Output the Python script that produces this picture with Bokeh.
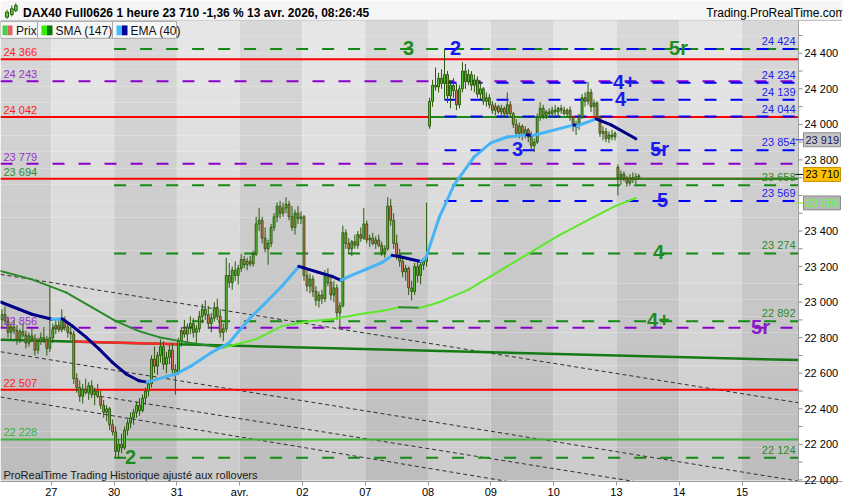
from bokeh.plotting import figure
from bokeh.models import Range1d, FixedTicker, ColumnDataSource
from bokeh.embed import file_html
from bokeh.resources import INLINE
from bokeh.core.properties import value

FONT = "Liberation Sans"

# ---------------- hourly candles (26 mar -> 13 apr 2026) ----------------
opens = [
    22900, 22930, 22895, 22830, 22860, 22840, 22790, 22835, 22815, 22770, 22810, 22795, 22730, 22780, 22800, 22790, 22740,
    22800, 22850, 22870, 22845, 22900, 22860, 22830, 22820, 22570, 22520, 22470, 22510, 22490, 22530, 22480, 22500, 22470, 22420, 22380, 22400, 22310,
    22270, 22160, 22200, 22180, 22280, 22320, 22350, 22380, 22420, 22390, 22460, 22500, 22540, 22680, 22640, 22700, 22750, 22650, 22690, 22730, 22620,
    22600, 22780, 22840, 22820, 22860, 22880, 22830, 22850, 22920, 22960, 22930, 22880, 22910, 22970, 22920, 22830, 22850, 23150, 23110, 23180, 23150,
    23190, 23240, 23210, 23230, 23215, 23270, 23440, 23460, 23360, 23300, 23330, 23420, 23480, 23540, 23500, 23530, 23550, 23480, 23420, 23500, 23470,
    23480, 23150, 23090, 23130, 23060, 23010, 23040, 23020, 23150, 23110, 23040, 23080, 22940, 22980, 23390, 23330, 23300, 23340, 23320, 23380, 23360,
    23440, 23350, 23360, 23330, 23350, 23320, 23280, 23300, 23540, 23460, 23330, 23270, 23230, 23170, 23190, 23080, 23060, 23200, 23150, 23210, 23230,
    23990, 24130, 24220, 24210, 24260, 24230, 24280, 24160, 24220, 24190, 24110, 24200, 24300, 24240, 24280, 24220, 24250, 24170, 24200, 24130, 24150,
    24110, 24080, 24100, 24070, 24090, 24060, 24110, 24060, 24000, 23950, 23990, 23940, 23970, 23930, 23880, 23900, 24040, 24090, 24050, 24070, 24060,
    24080, 24070, 24090, 24080, 24060, 24080, 24040, 23990, 24000, 24040, 24150, 24130, 24180, 24100, 24120, 24040, 23950, 23960, 23920, 23940, 23930,
    23760, 23700, 23720, 23695, 23670, 23700, 23690, 23705,
]
highs = [
    22960, 22975, 22920, 22880, 22900, 22870, 22850, 22880, 22840, 22830, 22850, 22820, 22800, 22830, 22860, 22810, 23085,
    22880, 22900, 22910, 22960, 22920, 22890, 22860, 22840, 22600, 22560, 22540, 22570, 22550, 22560, 22520, 22540, 22500, 22450, 22420, 22410, 22340,
    22300, 22230, 22260, 22300, 22340, 22380, 22400, 22440, 22460, 22480, 22520, 22560, 22700, 22750, 22720, 22790, 22780, 22720, 22760, 22770, 22650,
    22800, 22860, 22900, 22880, 22920, 22910, 22870, 22950, 22990, 23010, 22980, 22940, 23000, 23020, 22960, 22880, 23250, 23220, 23200, 23230, 23210,
    23270, 23260, 23250, 23260, 23290, 23480, 23530, 23480, 23420, 23350, 23440, 23500, 23560, 23570, 23560, 23590, 23570, 23540, 23520, 23540, 23510,
    23490, 23180, 23160, 23150, 23090, 23060, 23070, 23180, 23190, 23140, 23120, 23100, 23000, 23430, 23410, 23360, 23350, 23380, 23400, 23420, 23530,
    23460, 23380, 23390, 23370, 23380, 23340, 23320, 23590, 23580, 23500, 23380, 23300, 23260, 23210, 23200, 23120, 23220, 23240, 23230, 23250, 23560,
    24150, 24250, 24320, 24290, 24310, 24424, 24300, 24250, 24260, 24230, 24220, 24350, 24340, 24310, 24300, 24280, 24270, 24240, 24210, 24180, 24170,
    24130, 24120, 24110, 24110, 24100, 24180, 24130, 24070, 24030, 24010, 24000, 23990, 23980, 23960, 23920, 24060, 24125, 24110, 24080, 24090, 24100,
    24110, 24100, 24110, 24100, 24090, 24100, 24050, 24020, 24060, 24170, 24180, 24240, 24200, 24140, 24130, 24050, 23990, 23980, 23960, 23970, 23960,
    23775, 23740, 23735, 23710, 23720, 23730, 23725, 23720,
]
lows = [
    22860, 22880, 22800, 22790, 22820, 22760, 22770, 22800, 22740, 22750, 22780, 22700, 22710, 22760, 22770, 22700, 22720,
    22770, 22820, 22830, 22830, 22840, 22800, 22790, 22540, 22490, 22440, 22430, 22480, 22450, 22460, 22420, 22460, 22400, 22350, 22330, 22280, 22250,
    22125, 22120, 22150, 22170, 22250, 22290, 22310, 22350, 22360, 22380, 22420, 22470, 22520, 22600, 22590, 22660, 22620, 22600, 22650, 22600, 22480,
    22590, 22750, 22800, 22770, 22820, 22800, 22760, 22830, 22880, 22900, 22850, 22830, 22890, 22900, 22800, 22780, 22830, 23080, 23070, 23120, 23100,
    23170, 23190, 23180, 23200, 23200, 23260, 23400, 23330, 23280, 23210, 23310, 23400, 23450, 23470, 23480, 23500, 23460, 23400, 23380, 23440, 23440,
    23120, 23060, 23050, 23030, 22980, 22970, 22990, 23000, 23090, 23010, 23000, 22900, 22850, 22970, 23300, 23270, 23260, 23300, 23300, 23340, 23350,
    23330, 23310, 23320, 23300, 23310, 23260, 23250, 23290, 23430, 23300, 23240, 23200, 23140, 23120, 23040, 23010, 23040, 23110, 23100, 23180, 23200,
    23975, 24100, 24190, 24180, 24200, 24140, 24120, 24090, 24150, 24080, 24090, 24180, 24200, 24220, 24190, 24180, 24150, 24140, 24110, 24100, 24090,
    24060, 24050, 24060, 24050, 24040, 24050, 24040, 23980, 23930, 23920, 23910, 23920, 23900, 23850, 23845, 23890, 24020, 24030, 24030, 24040, 24040,
    24050, 24040, 24060, 24050, 24040, 24020, 23960, 23940, 23970, 24030, 24100, 24110, 24070, 24040, 24020, 23930, 23910, 23900, 23895, 23910, 23910,
    23600, 23660, 23680, 23650, 23655, 23670, 23665, 23690,
]
closes = [
    22930, 22895, 22830, 22860, 22840, 22790, 22835, 22815, 22770, 22810, 22795, 22730, 22780, 22800, 22790, 22740, 22800,
    22850, 22870, 22845, 22900, 22860, 22830, 22820, 22570, 22520, 22470, 22510, 22490, 22530, 22480, 22500, 22470, 22420, 22380, 22400, 22310, 22270,
    22160, 22200, 22180, 22280, 22320, 22350, 22380, 22420, 22390, 22460, 22500, 22540, 22680, 22640, 22700, 22750, 22650, 22690, 22730, 22620, 22600,
    22780, 22840, 22820, 22860, 22880, 22830, 22850, 22920, 22960, 22930, 22880, 22910, 22970, 22920, 22830, 22850, 23150, 23110, 23180, 23150, 23190,
    23240, 23210, 23230, 23215, 23270, 23440, 23460, 23360, 23300, 23330, 23420, 23480, 23540, 23500, 23530, 23550, 23480, 23420, 23500, 23470, 23480,
    23150, 23090, 23130, 23060, 23010, 23040, 23020, 23150, 23110, 23040, 23080, 22940, 22980, 23390, 23330, 23300, 23340, 23320, 23380, 23360, 23440,
    23350, 23360, 23330, 23350, 23320, 23280, 23300, 23540, 23460, 23330, 23270, 23230, 23170, 23190, 23080, 23060, 23200, 23150, 23210, 23230, 23260,
    24130, 24220, 24210, 24260, 24230, 24280, 24160, 24220, 24190, 24110, 24200, 24300, 24240, 24280, 24220, 24250, 24170, 24200, 24130, 24150, 24110,
    24080, 24100, 24070, 24090, 24060, 24110, 24060, 24000, 23950, 23990, 23940, 23970, 23930, 23880, 23900, 24040, 24090, 24050, 24070, 24060, 24080,
    24070, 24090, 24080, 24060, 24080, 24040, 23990, 24000, 24040, 24150, 24130, 24180, 24100, 24120, 24040, 23950, 23960, 23920, 23940, 23930, 23950,
    23700, 23720, 23695, 23670, 23700, 23690, 23705, 23710,
]

# ---------------- axes ----------------
day_labels = ["27", "30", "31", "avr.", "02", "07", "08", "09", "10", "13", "14", "15"]
day_starts = [17, 38, 59, 80, 101, 122, 143, 164, 185, 206, 227, 248]
price_ticks = [22000, 22200, 22400, 22600, 22800, 23000, 23200, 23400, 23800, 24000, 24200, 24400]
price_minor = [22000, 22100, 22200, 22300, 22400, 22500, 22600, 22700, 22800, 22900, 23000, 23100, 23200, 23300,
               23400, 23500, 23600, 23700, 23800, 23900, 24000, 24100, 24200, 24300, 24400, 24500]

# ---------------- indicators ----------------
ema_x = [0, 6.2, 10.5, 17.2, 20.6, 23.9, 28.6, 33, 37.3, 42, 46.3, 49, 49.7, 55.4, 58.7, 64, 70.7, 76.4,
         83.1, 88.8, 94.1, 99.8, 106.5, 110.9, 113.9, 116.6, 122.2, 127.6, 131, 133.3, 137.6, 140.6, 142.3,
         146.7, 151.7, 158.4, 164, 169.4, 176.1, 177.8, 179.1, 191.8, 192.8, 199.2, 204.2, 212.5]
ema_y = [23001, 22960, 22932, 22904, 22906, 22867, 22803, 22736, 22663, 22596, 22558, 22550, 22553, 22581, 22596, 22643, 22718, 22770,
         22904, 22999, 23089, 23201, 23167, 23145, 23123, 23145, 23184, 23223, 23263, 23257, 23240, 23229, 23251,
         23475, 23660, 23817, 23896, 23929, 23941, 23938, 23942, 23997, 23991, 24031, 23997, 23919]
sma_x = [0, 10.5, 21.9, 30.6, 38.6, 46.3, 53, 62, 70.7, 74.7, 85.5, 94.1, 103.2, 110.9, 119.9, 128.9, 133.3,
         140, 142.3, 146.7, 156.7, 166.7, 176.7, 186.8, 196.8, 205.2, 212.5]
sma_y = [23175, 23128, 23055, 22971, 22893, 22837, 22803, 22775, 22753, 22745, 22792, 22865, 22893, 22904, 22932, 22955, 22971,
         22969, 22977, 22999, 23072, 23173, 23274, 23375, 23464, 23537, 23586]

# ---------------- drawn levels ----------------
red_levels = [24366, 24042, 23694, 22507]
green_solid_levels = [22228]
green_over_level = [24042, 23694]
green_over_start = [143, 143]
green_over_end = [191, 266.9]
purple_levels = [24243, 23779, 22856]
green_dash_levels = [24424, 23658, 23274, 22892, 22124]
blue_dash_levels = [24424, 24234, 24139, 24044, 23854, 23569]
green_dash_start = 38
blue_dash_start = 148.5

left_label_levels = [24366, 24243, 24042, 23779, 23694, 22856, 22507, 22228]
left_label_colors = ["#ff1a1a", "#9933cc", "#ff1a1a", "#9933cc", "#2e8b2e", "#9933cc", "#ff1a1a", "#3cb43c"]
right_label_levels = [24424, 24234, 24139, 24044, 23854, 23658, 23569, 23274, 22892, 22124]
right_label_colors = ["#2020ee", "#2020ee", "#2020ee", "#2020ee", "#2020ee", "#2a8a2a", "#2020ee", "#2a8a2a", "#2a8a2a", "#2a8a2a"]

wave_text = ["3", "2", "5r", "4+", "4", "3", "5r", "5", "4", "4+", "5r", "2"]
wave_level = [24424, 24424, 24424, 24234, 24139, 23854, 23854, 23569, 23274, 22892, 22856, 22124]
wave_color = ["#1e8c1e", "#1a1aee", "#1e8c1e", "#1a1aee", "#1a1aee", "#1a1aee", "#1a1aee", "#1a1aee",
              "#1e8c1e", "#1e8c1e", "#8a1ac8", "#1e8c1e"]
wave_ref_px = [408, 455, 678, 624, 620, 517, 659, 662, 658, 658, 760, 130]

trend_x = [0, 266.9]
trend_y = [22789, 22674]
trend_red = [24, 60]
dash_tr_x0 = [0, 0, 0, 33.4]
dash_tr_y0 = [23156, 22721, 22466, 22470]
dash_tr_x1 = [266.9, 266.9, 266.9, 266.9]
dash_tr_y1 = [22434, 21993, 21719, 21844]

last_price = 23710
ema_last = 23919
sma_last = 23586

# ---------------- geometry helpers (reference pixel -> data) ----------------
PXI = 2.99      # pixels per hourly candle
K = 5.602       # index points per pixel


def X(px):
    return px / PXI


def V(py):
    return 22200 + (445.7 - py) * K


def PY(v):
    return 445.7 - (v - 22200) / K


FW_EST, FH_EST = 842, 483
X_END = X(FW_EST)
X_CH = X(798)           # right edge of the price pane
Y_CT, Y_CB = V(20), V(482)

p = figure(width=850, height=500, x_range=Range1d(0, X_END), y_range=Range1d(V(FH_EST), V(0)),
           y_axis_location="right", toolbar_location=None, output_backend="svg",
           min_border_left=0, min_border_right=8, min_border_top=0, min_border_bottom=0)
p.border_fill_color = "white"
p.background_fill_color = "white"
p.outline_line_color = None
p.xgrid.visible = False
p.ygrid.visible = False

# header strip
p.quad(left=[0], right=[X_END], top=[V(0)], bottom=[Y_CT], fill_color="#f6f6f6", line_color=None)
p.segment(x0=[0], x1=[X_END], y0=[Y_CT], y1=[Y_CT], line_color="#b8b8b8", line_width=1)

# background day bands with vertical shading
bounds = [0] + day_starts + [X_CH]
NS = 28
span = Y_CT - Y_CB
ql, qr, qt, qb, qc = [], [], [], [], []
for k in range(len(bounds) - 1):
    for s in range(NS):
        t = (s + 0.5) / NS
        g = int(round(216 - 27 * t)) if k % 2 == 0 else int(round(231 - 28 * t))
        ql.append(bounds[k]); qr.append(bounds[k + 1])
        qt.append(Y_CT - s * span / NS); qb.append(Y_CT - (s + 1) * span / NS)
        qc.append("#%02x%02x%02x" % (g, g, g))
p.quad(left=ql, right=qr, top=qt, bottom=qb, fill_color=qc, line_color=None)

# black dashed trendlines
p.segment(x0=dash_tr_x0, y0=dash_tr_y0, x1=dash_tr_x1, y1=dash_tr_y1, line_color="#303030",
          line_width=1, line_dash="4 3")

# horizontal levels
n_r = len(red_levels)
p.segment(x0=[0] * n_r, x1=[X_CH] * n_r, y0=red_levels, y1=red_levels, line_color="#ff0000", line_width=2)
p.segment(x0=green_over_start, x1=green_over_end, y0=green_over_level, y1=green_over_level,
          line_color="#1a8a1a", line_width=2)
p.segment(x0=[0], x1=[X_CH], y0=green_solid_levels, y1=green_solid_levels, line_color="#3cb43c", line_width=2)
p.segment(x0=[0] * len(purple_levels), x1=[X_CH] * len(purple_levels), y0=purple_levels, y1=purple_levels,
          line_color="#8a00cc", line_width=2, line_dash="12 14")
p.segment(x0=[green_dash_start] * len(green_dash_levels), x1=[X_CH] * len(green_dash_levels),
          y0=green_dash_levels, y1=green_dash_levels, line_color="#138a13", line_width=2, line_dash="12 14")
p.segment(x0=[blue_dash_start] * len(blue_dash_levels), x1=[X_CH] * len(blue_dash_levels),
          y0=blue_dash_levels, y1=blue_dash_levels, line_color="#0000ff", line_width=2, line_dash="12 14")

# long green trendline (partly red)
p.line(trend_x, trend_y, line_color="#147a14", line_width=2.5)
slope = (trend_y[1] - trend_y[0]) / (trend_x[1] - trend_x[0])
p.line(trend_red, [trend_y[0] + slope * v for v in trend_red], line_color="#ff2a2a", line_width=2.5)

# candles
xs = [i + 0.5 for i in range(len(closes))]
tops = [max(o, c) for o, c in zip(opens, closes)]
bots = [min(o, c) for o, c in zip(opens, closes)]
fills = ["#5ad23a" if c >= o else "#f07868" for o, c in zip(opens, closes)]
p.segment(x0=xs, x1=xs, y0=lows, y1=highs, line_color="#2a5a0c", line_width=1)
p.vbar(x=xs, width=0.62, top=tops, bottom=bots, fill_color=fills, line_color="#2a5a0c", line_width=1)


def colored(xv, yv, up, down):
    return ColumnDataSource(dict(
        x0=xv[:-1], x1=xv[1:], y0=yv[:-1], y1=yv[1:],
        c=[up if b >= a else down for a, b in zip(yv[:-1], yv[1:])]))


p.segment(x0="x0", y0="y0", x1="x1", y1="y1", line_color="c", line_width=2, line_cap="round",
          source=colored(sma_x, sma_y, "#5ee82a", "#2a8a2a"))
p.segment(x0="x0", y0="y0", x1="x1", y1="y1", line_color="c", line_width=3, line_cap="round",
          source=colored(ema_x, ema_y, "#46b4f5", "#000088"))

# level value labels
p.text(x=[X(3)] * len(left_label_levels), y=left_label_levels,
       text=[f"{v:,}".replace(",", " ") for v in left_label_levels], text_color=left_label_colors,
       text_font=value(FONT), text_font_size="11px", text_baseline="bottom", text_align="left", y_offset=-1)
p.text(x=[X(795)] * len(right_label_levels), y=right_label_levels,
       text=[f"{v:,}".replace(",", " ") for v in right_label_levels], text_color=right_label_colors,
       text_font=value(FONT), text_font_size="11px", text_baseline="bottom", text_align="right", y_offset=-2)

# wave labels
p.text(x=[X(v) for v in wave_ref_px], y=wave_level, text=wave_text, text_color=wave_color,
       text_font=value(FONT), text_font_size="20px", text_font_style="bold",
       text_align="center", text_baseline="middle", y_offset=-1)

# legend boxes (top left of the pane)
p.quad(left=[X(0), X(37), X(112)], right=[X(37), X(112), X(176)], top=[V(21)] * 3, bottom=[V(38)] * 3,
       fill_color="#f6f6f6", line_color="#a8a8a8", line_width=1)
sw_l = [2, 7, 41, 46.5, 116, 121.5]
sw_r = [7, 12, 46.5, 52, 121.5, 127]
sw_c = ["#4ccc4c", "#e06464", "#33ee00", "#007a00", "#44bbff", "#000099"]
p.quad(left=[X(v) for v in sw_l], right=[X(v) for v in sw_r], top=[V(25)] * 6, bottom=[V(35)] * 6,
       fill_color=sw_c, line_color=None)
p.text(x=[X(v) for v in [15.5, 55, 130]], y=[V(30.5)] * 3, text=["Prix", "SMA (147)", "EMA (40)"],
       text_font=value(FONT), text_font_size="12px", text_color="#111111", text_baseline="middle")

# bottom caption
p.text(x=[X(3)], y=[V(476)], text=["ProRealTime Trading  Historique ajusté aux rollovers"],
       text_font=value(FONT), text_font_size="11px", text_color="#1a1a1a", text_baseline="middle")

# header icon + texts
p.segment(x0=[X(6.5), X(11.3), X(15.3)], x1=[X(6.5), X(11.3), X(15.3)], y0=[V(18.3), V(16), V(11.7)],
          y1=[V(9.3), V(5), V(2.7)], line_color="#2a5a0c", line_width=1)
p.quad(left=[X(5), X(10), X(14)], right=[X(8), X(12.7), X(16.7)], top=[V(11.7), V(8.3), V(5)],
       bottom=[V(16.7), V(14), V(10)], fill_color="#5ad23a", line_color="#2a5a0c", line_width=1)
p.text(x=[X(22.5)], y=[V(12.5)], text=["DAX40 Full0626 1 heure 23 710 -1,36 % 13 avr. 2026, 08:26:45"],
       text_font=value(FONT), text_font_size="12px", text_font_style="bold", text_color="#000000",
       text_baseline="middle", text_align="left")
p.text(x=[X(845)], y=[V(12.5)], text=["Trading.ProRealTime.com"],
       text_font=value(FONT), text_font_size="12px", text_color="#000000",
       text_baseline="middle", text_align="right")

# right axis column: border line and tick marks
p.segment(x0=[X_CH], x1=[X_CH], y0=[Y_CB], y1=[Y_CT], line_color="#a0a0a0", line_width=1)
p.segment(x0=[X_CH] * len(price_minor), x1=[X(802)] * len(price_minor), y0=price_minor, y1=price_minor,
          line_color="#8c8c8c", line_width=1)

# price boxes on the axis
box_vals = [ema_last, last_price, sma_last]
box_dy = [1, -1.5, 5]
box_fill = ["#c6c6c6", "#ffc000", "#b6b6b6"]
box_line = ["#8c8c8c", "#c89000", "#8c8c8c"]
box_text = ["#1a1a50", "#000000", "#66ff33"]
box_mark = ["#2020cc", "#000000", "#66ee22"]
cy = [PY(v) + d for v, d in zip(box_vals, box_dy)]
p.segment(x0=[X(795)] * 3, x1=[X(803)] * 3, y0=[V(c) for c in cy], y1=[V(c) for c in cy],
          line_color=box_mark, line_width=1)
p.quad(left=[X(803)] * 3, right=[X(840)] * 3, top=[V(c - 7) for c in cy], bottom=[V(c + 7) for c in cy],
       fill_color=box_fill, line_color=box_line, line_width=1)
p.text(x=[X(805)] * 3, y=[V(c) for c in cy], text=[f"{v:,}".replace(",", " ") for v in box_vals],
       text_color=box_text, text_font=value(FONT), text_font_size="11px", text_baseline="middle",
       text_align="left")

# price axis (labels drawn over the right column)
ya = p.yaxis[0]
ya.ticker = FixedTicker(ticks=price_ticks, minor_ticks=[])
ya.major_label_overrides = {v: f"{v:,}".replace(",", " ") for v in price_ticks}
ya.major_label_text_font = FONT
ya.major_label_text_font_size = "11px"
ya.major_label_text_color = "#000000"
ya.major_tick_out = 0
ya.major_tick_in = 0
ya.minor_tick_out = 0
ya.minor_tick_in = 0
ya.major_label_standoff = -38
ya.axis_line_color = None

xa = p.xaxis[0]
xa.ticker = FixedTicker(ticks=day_starts, minor_ticks=[])
xa.major_label_overrides = {d: l for d, l in zip(day_starts, day_labels)}
xa.major_label_text_font = FONT
xa.major_label_text_font_size = "11px"
xa.major_label_text_color = "#000000"
xa.major_tick_out = 4
xa.major_tick_in = 0
xa.major_label_standoff = 0
xa.axis_line_color = "#9a9a9a"
xa.major_tick_line_color = "#9a9a9a"

open("out.html", "w").write(file_html(p, INLINE))
